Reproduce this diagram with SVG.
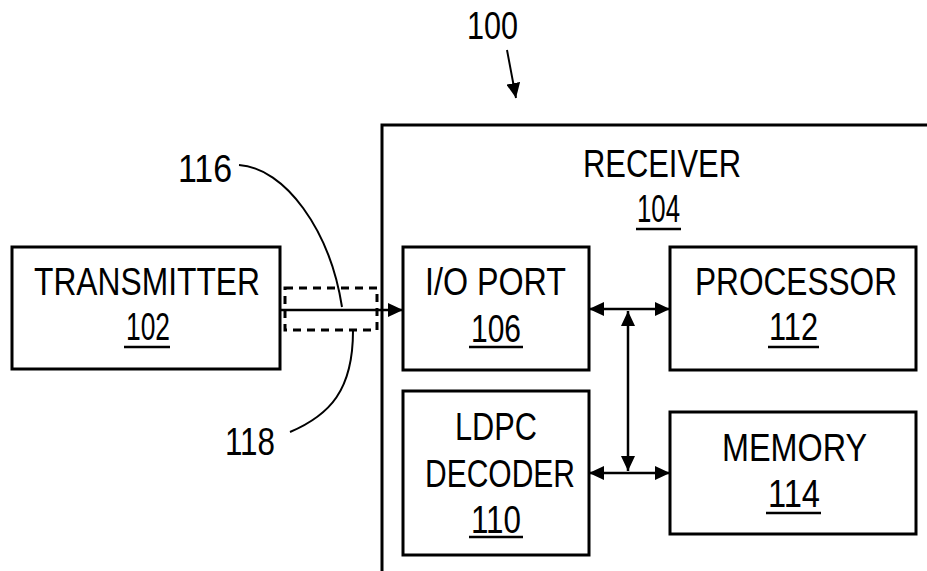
<svg xmlns="http://www.w3.org/2000/svg" width="927" height="571" viewBox="0 0 927 571">
<defs>
<marker id="ah" markerUnits="userSpaceOnUse" markerWidth="16" markerHeight="14" refX="15" refY="7" orient="auto-start-reverse">
<path d="M0,0 L15,7 L0,14 z" fill="#000"/>
</marker>
<style>
.box{fill:#fff;stroke:#000;stroke-width:3}
.t{font-family:"Liberation Sans",Arial,sans-serif;font-size:38px;fill:#000}
.ul{stroke:#000;stroke-width:2.5}
.c{fill:none;stroke:#000;stroke-width:2.5}
.lead{fill:none;stroke:#000;stroke-width:2}
</style>
</defs>
<rect width="927" height="571" fill="#fff"/>

<g id="label100">
<text class="t" x="467" y="39" textLength="51" lengthAdjust="spacingAndGlyphs">100</text>
<line class="lead" x1="507" y1="50" x2="516" y2="98" marker-end="url(#ah)"/>
</g>

<g id="receiver">
<path d="M382,571 V125 H927" fill="none" stroke="#000" stroke-width="3"/>
<text class="t" x="583" y="177" textLength="158" lengthAdjust="spacingAndGlyphs">RECEIVER</text>
<text class="t" x="637" y="222" textLength="43" lengthAdjust="spacingAndGlyphs">104</text>
<line class="ul" x1="636" y1="229" x2="681" y2="229"/>
</g>

<g id="transmitter">
<rect class="box" x="12" y="247" width="268" height="122"/>
<text class="t" x="34" y="295" textLength="226" lengthAdjust="spacingAndGlyphs">TRANSMITTER</text>
<text class="t" x="126" y="340" textLength="44" lengthAdjust="spacingAndGlyphs">102</text>
<line class="ul" x1="124" y1="347" x2="170" y2="347"/>
</g>

<g id="ioport">
<rect class="box" x="403" y="247" width="186" height="123"/>
<text class="t" x="425" y="295" textLength="141" lengthAdjust="spacingAndGlyphs">I/O PORT</text>
<text class="t" x="471" y="342" textLength="50" lengthAdjust="spacingAndGlyphs">106</text>
<line class="ul" x1="469" y1="347" x2="523" y2="347"/>
</g>

<g id="processor">
<rect class="box" x="670" y="247" width="246" height="123"/>
<text class="t" x="0" y="0" style="font-size:32px" transform="translate(695,295) scale(1,1.19)" textLength="202" lengthAdjust="spacingAndGlyphs">PROCESSOR</text>
<text class="t" x="769" y="340" textLength="49" lengthAdjust="spacingAndGlyphs">112</text>
<line class="ul" x1="768" y1="347" x2="819" y2="347"/>
</g>

<g id="ldpc">
<rect class="box" x="403" y="391" width="186" height="164"/>
<text class="t" x="455" y="440" textLength="82" lengthAdjust="spacingAndGlyphs">LDPC</text>
<text class="t" x="425" y="487" textLength="150" lengthAdjust="spacingAndGlyphs">DECODER</text>
<text class="t" x="471" y="533" textLength="50" lengthAdjust="spacingAndGlyphs">110</text>
<line class="ul" x1="469" y1="537" x2="523" y2="537"/>
</g>

<g id="memory">
<rect class="box" x="670" y="412" width="246" height="122"/>
<text class="t" x="722" y="461" textLength="145" lengthAdjust="spacingAndGlyphs">MEMORY</text>
<text class="t" x="768" y="507" textLength="52" lengthAdjust="spacingAndGlyphs">114</text>
<line class="ul" x1="766" y1="513" x2="821" y2="513"/>
</g>

<g id="label116">
<text class="t" x="178" y="182" textLength="54" lengthAdjust="spacingAndGlyphs">116</text>
<path class="lead" d="M239,165 C285,168 330,230 342,307"/>
</g>

<g id="label118">
<text class="t" x="225" y="455" textLength="50" lengthAdjust="spacingAndGlyphs">118</text>
<path class="lead" d="M290,432 C330,415 353,390 353,331"/>
</g>

<g id="connectors">
<rect x="285" y="288" width="92" height="42" fill="none" stroke="#000" stroke-width="3" stroke-dasharray="8 6"/>
<line class="c" x1="280" y1="310" x2="403" y2="310" marker-end="url(#ah)"/>
<line class="c" x1="589" y1="309" x2="670" y2="309" marker-start="url(#ah)" marker-end="url(#ah)"/>
<line class="c" x1="589" y1="473" x2="670" y2="473" marker-start="url(#ah)" marker-end="url(#ah)"/>
<line class="c" x1="628" y1="311" x2="628" y2="471" marker-start="url(#ah)" marker-end="url(#ah)"/>
</g>
</svg>
